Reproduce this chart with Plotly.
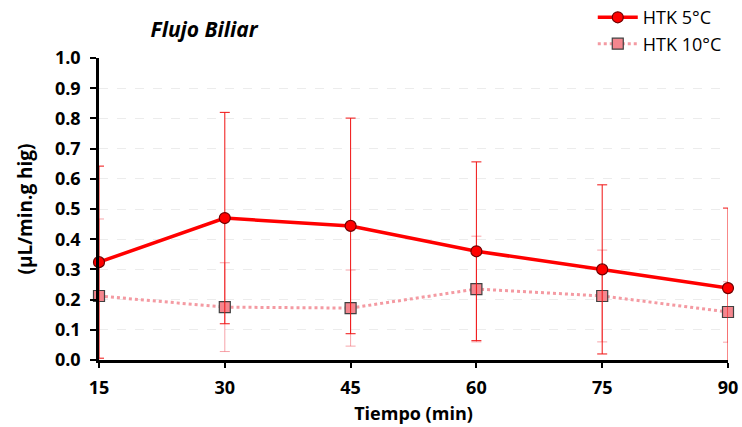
import plotly.graph_objects as go

# Bile flow over time for two preservation temperatures
tiempo = [15, 30, 45, 60, 75, 90]
htk5_mean = [0.324, 0.470, 0.444, 0.360, 0.300, 0.238]
htk5_sd = [0.318, 0.350, 0.357, 0.296, 0.280, 0.265]
htk10_mean = [0.212, 0.175, 0.172, 0.235, 0.212, 0.159]
htk10_sd = [0.255, 0.147, 0.126, 0.175, 0.152, 0.100]

y_ticks = [round(i * 0.1, 1) for i in range(11)]
x_ticks = tiempo

FONT = "'Open Sans', Lato, sans-serif"

fig = go.Figure()

fig.add_trace(go.Scatter(
    x=tiempo, y=htk10_mean, name="HTK 10°C", mode="lines+markers",
    line=dict(color="#f49aa2", width=3, dash="dot"),
    marker=dict(symbol="square", size=11, color="#f4868e",
                line=dict(color="#404040", width=1.2)),
    error_y=dict(type="data", array=htk10_sd, visible=True,
                 color="rgba(240,90,100,0.55)", thickness=1, width=5),
    cliponaxis=False,
))

fig.add_trace(go.Scatter(
    x=tiempo, y=htk5_mean, name="HTK 5°C", mode="lines+markers",
    line=dict(color="#ff0000", width=3.5),
    marker=dict(symbol="circle", size=11, color="#ff0000",
                line=dict(color="#700000", width=1.2)),
    error_y=dict(type="data", array=htk5_sd, visible=True,
                 color="#f01010", thickness=1, width=5),
    cliponaxis=False,
))

fig.update_layout(
    width=742, height=427,
    margin=dict(l=99, r=14, t=58, b=67, autoexpand=False),
    paper_bgcolor="white", plot_bgcolor="white",
    font=dict(family=FONT, color="#000000"),
    title=dict(text="<b><i>Flujo Biliar</i></b>", x=0.275, xanchor="center",
               y=0.93, yanchor="middle", font=dict(size=21, family=FONT)),
    legend=dict(x=0.785, xanchor="left", y=1.195, yanchor="top",
                traceorder="reversed", bgcolor="rgba(0,0,0,0)",
                font=dict(size=18, family=FONT),
                itemwidth=40, tracegroupgap=0),
    showlegend=True,
)

fig.update_xaxes(
    range=[15, 90], tickvals=x_ticks, ticktext=["<b>%d</b>" % v for v in x_ticks],
    showline=True, linecolor="black", linewidth=3,
    ticks="outside", ticklen=5, tickwidth=2, tickcolor="black",
    ticklabelstandoff=4,
    showgrid=False, zeroline=False,
    tickfont=dict(size=18, family=FONT),
    title=dict(text="<b>Tiempo (min)</b>", font=dict(size=18, family=FONT), standoff=10),
)

fig.update_yaxes(
    range=[0, 1.0], tickvals=y_ticks, ticktext=["<b>%.1f</b>" % v for v in y_ticks],
    showline=True, linecolor="black", linewidth=2.5,
    ticks="outside", ticklen=6, tickwidth=2, tickcolor="black",
    ticklabelstandoff=6,
    showgrid=True, gridcolor="#ececec", gridwidth=1, griddash="dash",
    zeroline=False,
    tickfont=dict(size=18, family=FONT),
    title=dict(text="<b>(µL/min.g hig)</b>", font=dict(size=19, family=FONT), standoff=18),
)

fig.write_html("out.html")
